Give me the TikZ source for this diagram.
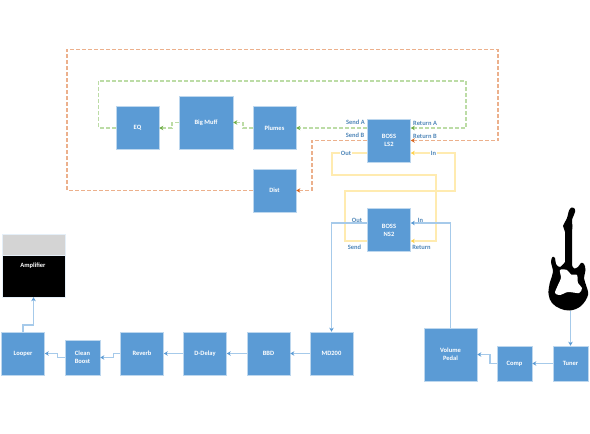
\documentclass[tikz,border=0pt]{standalone}
\usepackage{fontspec}
\setmainfont{Carlito}
\usetikzlibrary{arrows.meta}
\definecolor{boxfill}{HTML}{5B9BD5}
\definecolor{boxedge}{HTML}{BDD7EE}
\definecolor{labelblue}{HTML}{4F86B8}
\definecolor{wireblue}{HTML}{A6CAEA}
\definecolor{wiregreen}{HTML}{BCDCA6}
\definecolor{tipgreen}{HTML}{70AD47}
\definecolor{wireorange}{HTML}{ECB08C}
\definecolor{tiporange}{HTML}{D9651F}
\definecolor{wireyellow}{HTML}{FFEBB0}
\definecolor{tipyellow}{HTML}{FFD24D}
\tikzset{
  x=1pt,y=-1pt,
  fx/.style n args={2}{draw=boxedge,line width=0.6pt,fill=boxfill,text=white,font=\bfseries\fontsize{6.5}{8}\selectfont,
    align=center,inner sep=0pt,minimum width=#1pt,minimum height=#2pt},
  port/.style={text=labelblue,font=\bfseries\fontsize{6.5}{8}\selectfont,inner sep=0pt},
  bluewire/.style={draw=wireblue,line width=1.2pt,-{Stealth[length=4pt,width=4.5pt,color=boxfill]}},
  greenwire/.style={draw=wiregreen,line width=1.2pt,dash pattern=on 4pt off 2pt,-{Stealth[length=4pt,width=4.5pt,color=tipgreen]}},
  orangewire/.style={draw=wireorange,line width=1.2pt,dash pattern=on 4pt off 2pt,-{Stealth[length=4pt,width=4.5pt,color=tiporange]}},
  yellowwire/.style={draw=wireyellow,line width=1.2pt,-{Stealth[length=4pt,width=4.5pt,color=tipyellow]}},
}
\begin{document}
\begin{tikzpicture}
\useasboundingbox (0,0) rectangle (590,434);
% amplifier
\node[draw=boxedge!40!white,line width=0.4pt,fill=black!17,minimum width=63pt,minimum height=21pt,inner sep=0pt] (amphead) at (33.5,244.5) {};
\node[draw=boxedge!40!white,line width=0.4pt,fill=black,minimum width=63pt,minimum height=42pt,inner sep=0pt] (amp) at (33.5,276) {};
\node[text=white,font=\bfseries\fontsize{6.5}{8}\selectfont,inner sep=0pt] (amptext) at (33,265.5) {Amplifier};
% boxes
\node[fx={43}{43}] (eq) at (137.5,128) {EQ};
\node[fx={54}{53}] (muff) at (206,122.5) {Big Muff};
\node[fx={43}{43}] (plumes) at (274.5,128) {Plumes};
\node[fx={43}{43}] (dist) at (274.5,190.5) {Dist};
\node[fx={43}{43}] (ls) at (389,140.5) {BOSS\\LS2};
\node[fx={43}{43}] (ns) at (389,230) {BOSS\\NS2};
\node[fx={43}{43}] (looper) at (23,353.5) {Looper};
\node[fx={35}{35}] (clean) at (82.5,357.5) {Clean\\Boost};
\node[fx={43}{43}] (reverb) at (142,353.5) {Reverb};
\node[fx={43}{43}] (ddelay) at (205,353.5) {D-Delay};
\node[fx={43}{43}] (bbd) at (268.5,353.5) {BBD};
\node[fx={43}{43}] (md) at (331.5,353.5) {MD200};
\node[fx={53}{53}] (vol) at (450.5,354.5) {Volume\\Pedal};
\node[fx={35}{35}] (comp) at (514.5,363.5) {Comp};
\node[fx={35}{35}] (tuner) at (570.5,363.5) {Tuner};
% green loop
\draw[greenwire] ([yshift=12.5pt]ls.west) -- (plumes.east);
\draw[greenwire] (plumes.west) -- (243,128) -- (243,122.5) -- (muff.east);
\draw[greenwire] (muff.west) -- (172,122.5) -- (172,128) -- (eq.east);
\draw[greenwire] (eq.west) -- (98.5,128) -- (98.5,81) -- (466,81) -- (466,128) -- ([yshift=12.5pt]ls.east);
% orange loop
\draw[orangewire] (ls.west) -- (312,140.5) -- (312,190.5) -- (dist.east);
\draw[orangewire] (dist.west) -- (67,190.5) -- (67,49.5) -- (498,49.5) -- (498,140.5) -- (ls.east);
% yellow loop
\draw[yellowwire] ([yshift=-12.5pt]ls.west) -- (332,153) -- (332,175) -- (436,175) -- (436,241) -- ([yshift=-11pt]ns.east);
\draw[yellowwire] ([yshift=-11pt]ns.west) -- (345,241) -- (345,191) -- (455,191) -- (455,153) -- ([yshift=-12.5pt]ls.east);
% blue chain
\draw[bluewire] ([yshift=7pt]ns.west) -- (331.5,223) -- (md.north);
\draw[bluewire] (vol.north) -- (450.5,223) -- ([yshift=7pt]ns.east);
\draw[bluewire] (md.west) -- (bbd.east);
\draw[bluewire] (bbd.west) -- (ddelay.east);
\draw[bluewire] (ddelay.west) -- (reverb.east);
\draw[bluewire] (reverb.west) -- (113.5,353.5) -- (113.5,357.5) -- (clean.east);
\draw[bluewire] (clean.west) -- (57.5,357.5) -- (57.5,353.5) -- (looper.east);
\draw[bluewire] (looper.north) -- (23,325) -- (33.5,325) -- (amp.south);
\draw[bluewire] (tuner.west) -- (comp.east);
\draw[bluewire] (comp.west) -- (490,363.5) -- (490,354.5) -- (vol.east);
\coordinate (guitarbase) at (570.5,311);
\draw[bluewire] (guitarbase) -- (tuner.north);
% guitar
\fill[black] (572,231) -- plot[smooth,tension=0.45] coordinates {(572,231)(572.5,226)(572,220)(575,212)(574.5,208.5)(571.5,207.5)(569,210.5)(567,218)(563,226)(564,229)(565,232)} -- (565,262)
  -- plot[smooth,tension=0.6] coordinates {(565,262)(560,267)(556,264)(555,258)(552.5,257)(551,262)(553,272)(550,282)(548.5,294)(552,303)(560,308.5)(570,310.5)(581,306)(588,295)(586,285)(584,278)(585.5,270)(584,264)(581,263)(578,267)(574,268.5)(572,265)} -- cycle;
\fill[white] plot[smooth cycle,tension=0.5] coordinates {(560,270)(567,270)(571,274.5)(577,275)(578,283)(582,288)(579,293)(568,292)(560,295)(555,293)(558,285)(561,278)};
% labels
\node[port,anchor=east] (sa) at (365,122.5) {Send A};
\node[port,anchor=east] (sb) at (364.5,135.5) {Send B};
\node[port,anchor=west] (ra) at (413,123) {Return A};
\node[port,anchor=west] (rb) at (413,136) {Return B};
\node[port,fill=white,inner xsep=1pt] (lo) at (346,153) {Out};
\node[port,fill=white,inner xsep=1pt] (li) at (433.5,153) {In};
\node[port] (no) at (357,220.5) {Out};
\node[port] (ni) at (420.5,220.5) {In};
\node[port] (ns1) at (354.5,247) {Send};
\node[port] (nr) at (421.5,247.5) {Return};
\end{tikzpicture}
\end{document}
